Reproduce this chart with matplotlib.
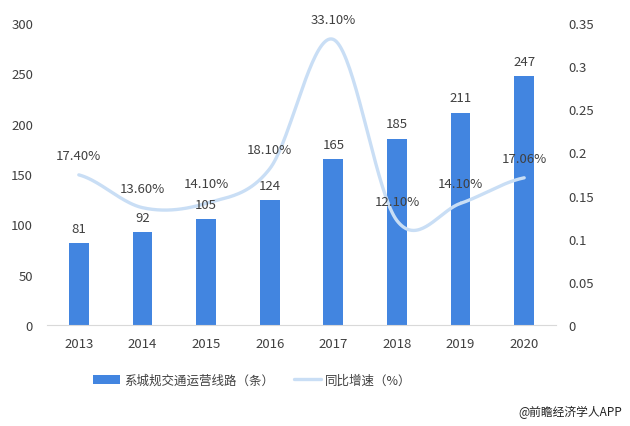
import numpy as np
import matplotlib.pyplot as plt

plt.rcParams['font.family'] = ['Noto Sans CJK SC', 'DejaVu Sans']

years = ["2013", "2014", "2015", "2016", "2017", "2018", "2019", "2020"]
lines_count = [81, 92, 105, 124, 165, 185, 211, 247]
growth = [0.174, 0.136, 0.141, 0.181, 0.331, 0.121, 0.141, 0.1706]
growth_labels = ["17.40%", "13.60%", "14.10%", "18.10%", "33.10%", "12.10%", "14.10%", "17.06%"]

bar_color = "#4285e0"
line_color = "#c9def5"
text_color = "#404040"


def smooth(x, y, n=40):
    # Catmull-Rom style smoothing like the spreadsheet "smoothed line"
    x = np.asarray(x, float)
    y = np.asarray(y, float)
    px = np.concatenate([[2 * x[0] - x[1]], x, [2 * x[-1] - x[-2]]])
    py = np.concatenate([[y[0]], y, [y[-1]]])
    xs, ys = [], []
    for i in range(1, len(px) - 2):
        t = np.linspace(0, 1, n)
        p0, p1, p2, p3 = py[i - 1], py[i], py[i + 1], py[i + 2]
        q0, q1, q2, q3 = px[i - 1], px[i], px[i + 1], px[i + 2]
        ys.append(0.5 * (2 * p1 + (-p0 + p2) * t + (2 * p0 - 5 * p1 + 4 * p2 - p3) * t ** 2
                         + (-p0 + 3 * p1 - 3 * p2 + p3) * t ** 3))
        xs.append(0.5 * (2 * q1 + (-q0 + q2) * t + (2 * q0 - 5 * q1 + 4 * q2 - q3) * t ** 2
                         + (-q0 + 3 * q1 - 3 * q2 + q3) * t ** 3))
    return np.concatenate(xs), np.concatenate(ys)


fig = plt.figure(figsize=(6.3, 4.27), dpi=100)
ax = fig.add_axes([47 / 630, 1 - 326 / 427, 509 / 630, 302 / 427])
x = np.arange(len(years))

bars = ax.bar(x, lines_count, width=0.31, color=bar_color, zorder=2, label="系城规交通运营线路（条）")

ax.set_xlim(-0.5, len(years) - 0.5)
ax.set_ylim(0, 300)
ax.set_yticks(np.arange(0, 301, 50))
ax.set_xticks(x)
ax.set_xticklabels(years)

ax2 = ax.twinx()
sx, sy = smooth(x, growth)
ln, = ax2.plot(sx, sy, color=line_color, lw=2.4, zorder=3, solid_capstyle="round", label="同比增速（%）")
ax2.set_ylim(0, 0.35)
ax2.set_yticks([0, 0.05, 0.1, 0.15, 0.2, 0.25, 0.3, 0.35])
ax2.set_yticklabels(["0", "0.05", "0.1", "0.15", "0.2", "0.25", "0.3", "0.35"])
for xi, g, lab in zip(x, growth, growth_labels):
    ax2.annotate(lab, (xi, g), xytext=(0, 14), textcoords="offset points",
                 ha="center", va="center", fontsize=9.5, color=text_color, zorder=5)
# bar value labels drawn on top of the line
for xi, v in zip(x, lines_count):
    ax2.annotate(str(v), (xi, v), xycoords=ax.transData, xytext=(0, 6), textcoords="offset points",
                 ha="center", va="bottom", fontsize=9.5, color=text_color, zorder=5)

for a in (ax, ax2):
    for s in a.spines.values():
        s.set_visible(False)
    a.tick_params(length=0, labelsize=9.5, colors=text_color)
ax.spines["bottom"].set_visible(True)
ax.spines["bottom"].set_color("#d9d9d9")
ax.tick_params(axis="y", pad=10)
ax.tick_params(axis="x", pad=9)
ax2.tick_params(axis="y", pad=9)
ax.set_zorder(1)
ax2.set_zorder(2)

fig.legend(handles=[bars, ln], loc="center", bbox_to_anchor=(252 / 630, 1 - 381 / 427),
           ncol=2, frameon=False, fontsize=9, labelcolor=text_color,
           handlelength=2.2, handleheight=0.7, columnspacing=1.6, handletextpad=0.3)

fig.text(622 / 630, 1 - 412 / 427, "@前瞻经济学人APP", ha="right", va="center",
         fontsize=8.5, color="#222222")

fig.savefig("out.png", dpi=100)
